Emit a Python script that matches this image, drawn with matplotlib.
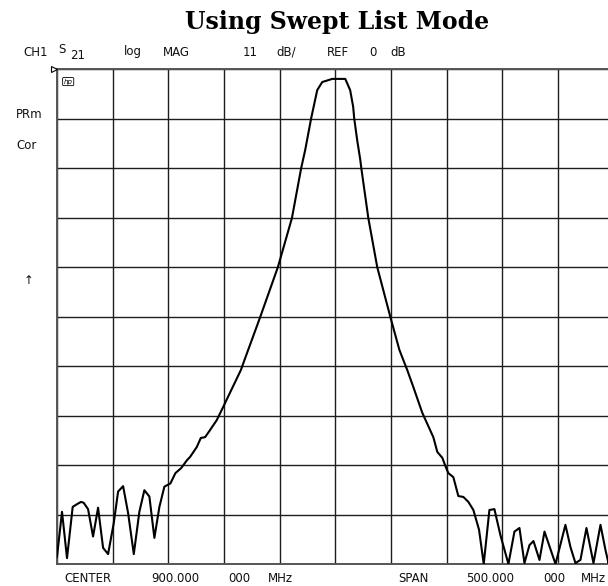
import matplotlib
matplotlib.use('Agg')
import matplotlib.pyplot as plt

# S21 trace (MHz, dB)
freq_mhz = [650.0, 654.5, 659.0, 664.1, 668.0, 671.6, 674.0, 677.9, 682.4, 686.9,
            691.4, 695.9, 701.0, 704.9, 709.4, 713.9, 719.0, 724.0, 728.5, 733.0,
            737.5, 742.0, 746.5, 751.9, 756.4, 761.5, 766.9, 769.6, 775.6, 779.2,
            783.1, 787.6, 793.6, 799.3, 815.2, 818.4, 832.6, 848.5, 861.1, 869.4,
            873.0, 878.4, 883.8, 888.3, 897.3, 909.0, 913.4, 916.1, 917.0, 919.7,
            922.5, 923.4, 929.7, 937.7, 949.5, 957.6, 961.2, 964.7, 970.2, 978.2,
            988.1, 991.7, 996.2, 998.9, 1001.6, 1006.1, 1010.6, 1015.1, 1019.6, 1024.1,
            1029.2, 1033.4, 1038.5, 1043.0, 1048.4, 1055.6, 1061.0, 1065.5, 1070.0, 1074.5,
            1078.1, 1083.5, 1088.0, 1097.9, 1106.8, 1111.3, 1115.8, 1120.3, 1125.7, 1132.0,
            1138.3, 1142.8, 1145.5, 1150.0]
mag_db = [-108.4, -98.4, -108.7, -97.3, -96.7, -96.2, -96.4, -97.8, -103.9, -97.5,
          -106.4, -107.8, -100.9, -93.9, -92.7, -98.7, -107.8, -98.4, -93.6, -95.0,
          -104.2, -97.3, -92.8, -92.1, -89.8, -88.7, -86.9, -86.2, -84.0, -82.0,
          -81.8, -80.2, -78.0, -75.1, -66.9, -64.7, -55.1, -44.0, -33.1, -22.0,
          -18.0, -10.9, -4.7, -2.9, -2.2, -2.2, -4.7, -8.4, -10.9, -15.8,
          -20.2, -22.0, -33.1, -44.0, -55.1, -62.4, -64.7, -66.9, -70.7, -76.4,
          -81.8, -85.1, -86.4, -88.2, -89.8, -90.7, -94.9, -95.1, -96.2, -98.0,
          -102.4, -110.0, -98.0, -97.8, -103.6, -110.0, -102.8, -102.0, -109.8, -105.8,
          -104.9, -109.1, -102.8, -110.0, -101.3, -106.2, -109.8, -109.1, -102.0, -109.8,
          -101.3, -106.9, -109.8, -104.0]

center_mhz = 900.0
span_mhz = 500.0
ref_db = 0.0
db_per_div = 11.0
n_div = 10

W, H = 608, 586
fig = plt.figure(figsize=(W / 100, H / 100), dpi=100, facecolor='white')

# plot area: grid runs slightly past the right edge of the picture
left_px, right_px, top_px, bot_px = 57, 613.5, 69, 564
ax = fig.add_axes([left_px / W, 1 - bot_px / H,
                   (right_px - left_px) / W, (bot_px - top_px) / H])
ax.set_facecolor('white')

f0 = center_mhz - span_mhz / 2
f1 = center_mhz + span_mhz / 2
ybot = ref_db - db_per_div * n_div
ax.set_xlim(f0, f1)
ax.set_ylim(ybot, ref_db)

grid_col = '#1e1e1e'
for i in range(n_div + 1):
    ax.axvline(f0 + i * span_mhz / n_div, color=grid_col, lw=1.0, zorder=1)
    ax.axhline(ref_db - i * db_per_div, color=grid_col, lw=1.0, zorder=1)
ax.set_xticks([])
ax.set_yticks([])
for s in ax.spines.values():
    s.set_color('#555555')
    s.set_linewidth(1.4)

ax.plot(freq_mhz, mag_db, color='black', lw=1.5, zorder=3)

# reference level marker
ax.plot([f0 - 3], [ref_db], marker='>', ms=4, mfc='white', mec='black',
        mew=0.8, clip_on=False, zorder=4)
ax.text(f0 + 6, ref_db - 2.8, 'hp', fontsize=5, fontstyle='italic',
        ha='left', va='center',
        bbox=dict(boxstyle='round,pad=0.15', fc='white', ec='black', lw=0.6))


def px(x, y):
    return x / W, 1 - y / H


# title
fig.text(*px(337, 22), 'Using Swept List Mode', family='DejaVu Serif',
         fontsize=17, weight='bold', ha='center', va='center', color='black')

plot_font = dict(family='DejaVu Sans', fontsize=8.5, color='#111111',
                 va='center')

header_words = [('CH1', 35.9, 52), ('S', 61.5, 49.5), ('21', 77.8, 55.5),
                ('log', 132.5, 52), ('MAG', 176, 52), ('11', 250, 52),
                ('dB/', 286.5, 52), ('REF', 337.5, 52), ('0', 373, 52),
                ('dB', 398.5, 52)]
for word, x, y in header_words:
    fig.text(*px(x, y), word, ha='center', **plot_font)

footer_words = [('CENTER', 87.7), ('900.000', 175.3), ('000', 239), ('MHz', 280),
                ('SPAN', 413), ('500.000', 490.5), ('000', 554)]
for word, x in footer_words:
    fig.text(*px(x, 578), word, ha='center', **plot_font)
fig.text(*px(581, 578), 'MHz', ha='left', **plot_font)

fig.text(*px(16, 114), 'PRm', ha='left', **plot_font)
fig.text(*px(16, 146), 'Cor', ha='left', **plot_font)
fig.text(*px(29, 281), '↑', ha='center', **plot_font)

fig.savefig('out.png', dpi=100, facecolor='white')
